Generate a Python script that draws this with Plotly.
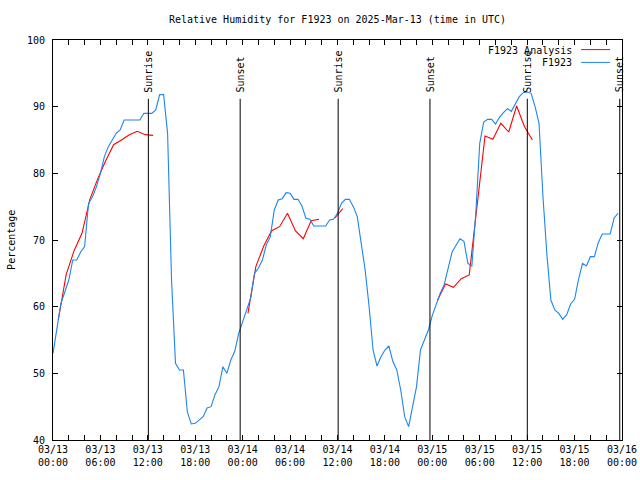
import plotly.graph_objects as go
import pandas as pd

FONT = "DejaVu Sans Mono"
station = "F1923"
title_text = "Relative Humidity for F1923 on 2025-Mar-13 (time in UTC)"

# Observed RH (F1923), every 30 minutes from 03/13 00:00 UTC
obs_start = "2025-03-13 00:00"
obs_step = "30min"
rh_obs = [
    53, 57, 60.5, 62.2, 64, 67, 67, 68.2, 69, 75.5,
    76.5, 78, 80, 82.5, 84, 85, 86, 86.5, 88, 88,
    88, 88, 88, 89, 89, 89, 89.5, 91.8, 91.8, 86,
    64, 51.5, 50.5, 50.5, 44.2, 42.4, 42.5, 43, 43.5, 44.8,
    45, 46.8, 48, 51, 50, 52, 53.3, 56,
    57.8, 59.5, 61.25, 65, 65.8, 67, 69.3, 70.5, 74.5, 76,
    76.2, 77.1, 77, 76.1, 76.1, 75.1, 73.25, 73.1, 72.1, 72.1,
    72.1, 72.1, 73, 73.1, 74, 75.5, 76.1, 76.1, 75, 73.5,
    69.5, 65.5, 60, 53.5, 51.1, 52.5, 53.5, 54.1, 51.8, 50.5,
    47.5, 43.5, 42, 45.3, 48, 53.5, 55, 56.5,
    58.7, 60.4, 62, 63.3, 65.75, 68.2, 69.2, 70.2, 69.8, 66.5,
    66.1, 74, 84.5, 87.7, 88.1, 88.1, 87.4, 88.4, 89.1, 89.7,
    89.3, 90.4, 91.5, 92.1, 92.2, 92, 90, 87.5, 76.5, 67.75,
    61, 59.5, 59, 58.1, 58.8, 60.4, 61.1, 64.1, 66.5, 66.1,
    67.5, 67.5, 69.6, 70.9, 70.9, 70.9, 73.3, 74,
]

# Analysis RH, hourly at hh:40 from 03/13 00:40 UTC (None = missing)
ana_start = "2025-03-13 00:40"
ana_step = "1h"
rh_analysis = [
    58, 64.8, 68.4, 71, 76.1, 79.2, 81.9, 84.3, 85, 85.8, 86.3, 85.8, 85.7,
    None, None, None, None, None, None, None, None, None, None, None,
    59, 66, 69.1, 71.4, 72, 74, 71.4, 70.2, 72.9, 73.1, None, 73.3, 74.7,
    None, None, None, None, None, None, None, None, None, None, None,
    61, 63.4, 62.9, 64.2, 64.75, 75.5, 85.6, 85.1, 87.5, 86.2, 90.1, 87, 85,
]

sun_times = ["2025-03-13 12:04", "2025-03-13 23:41", "2025-03-14 12:05",
             "2025-03-14 23:42", "2025-03-15 12:01", "2025-03-15 23:43"]
sun_labels = ["Sunrise", "Sunset", "Sunrise", "Sunset", "Sunrise", "Sunset"]

x_tick_labels = ["03/13<br>00:00", "03/13<br>06:00", "03/13<br>12:00", "03/13<br>18:00",
                 "03/14<br>00:00", "03/14<br>06:00", "03/14<br>12:00", "03/14<br>18:00",
                 "03/15<br>00:00", "03/15<br>06:00", "03/15<br>12:00", "03/15<br>18:00",
                 "03/16<br>00:00"]
y_ticks = [40, 50, 60, 70, 80, 90, 100]

x_start, x_end = "2025-03-13 00:00", "2025-03-16 00:00"
tick_times = pd.date_range(x_start, x_end, freq="6h")
minor_times = pd.date_range(x_start, x_end, freq="2h")

obs_times = pd.date_range(obs_start, periods=len(rh_obs), freq=obs_step)
ana_times = pd.date_range(ana_start, periods=len(rh_analysis), freq=ana_step)

RED = "#ff0000"
BLUE = "#1c86ee"

fig = go.Figure()
fig.add_trace(go.Scatter(x=ana_times, y=rh_analysis, mode="lines", name=station + " Analysis",
                         line=dict(color=RED, width=1.1), connectgaps=False))
fig.add_trace(go.Scatter(x=obs_times, y=rh_obs, mode="lines", name=station,
                         line=dict(color=BLUE, width=1.1)))

shapes = []
annotations = []
for t, lab in zip(sun_times, sun_labels):
    shapes.append(dict(type="line", xref="x", yref="paper", x0=t, x1=t, y0=0, y1=0.853,
                       line=dict(color="black", width=1)))
    annotations.append(dict(x=t, y=0.864, xref="x", yref="paper", text=lab, textangle=-90,
                            showarrow=False, xanchor="center", yanchor="bottom",
                            font=dict(family=FONT, size=10, color="black")))

# custom legend (text then line sample, as in the reference)
legend_rows = [(station + " Analysis", RED, 0.975), (station, BLUE, 0.943)]
for name, col, yy in legend_rows:
    annotations.append(dict(x=0.916, y=yy, xref="paper", yref="paper", text=name,
                            showarrow=False, xanchor="right", yanchor="middle",
                            font=dict(family=FONT, size=10, color="black")))
    shapes.append(dict(type="line", xref="paper", yref="paper", x0=0.928, x1=0.979,
                       y0=yy + 0.001, y1=yy + 0.001, line=dict(color=col, width=1)))

annotations.append(dict(x=-0.074, y=0.5, xref="paper", yref="paper", text="Percentage",
                        textangle=-90, showarrow=False, xanchor="center", yanchor="middle",
                        font=dict(family=FONT, size=10, color="black")))

fig.update_layout(
    width=640, height=480,
    margin=dict(l=53, r=18, t=40, b=40, autoexpand=False),
    paper_bgcolor="white", plot_bgcolor="white",
    showlegend=False,
    font=dict(family=FONT, size=10, color="black"),
    title=dict(text=title_text, x=0.5, xref="paper", xanchor="center",
               y=1 - 19 / 480, yref="container", yanchor="middle",
               font=dict(family=FONT, size=10, color="black")),
    shapes=shapes, annotations=annotations,
    xaxis=dict(type="date", range=[x_start, x_end], tickmode="array",
               tickvals=tick_times, ticktext=x_tick_labels,
               ticks="inside", ticklen=5, tickcolor="black", tickwidth=1,
               showline=True, linecolor="black", linewidth=1, mirror="ticks",
               showgrid=False, zeroline=False,
               minor=dict(tickmode="array", tickvals=minor_times, ticks="inside",
                          ticklen=5, tickcolor="black", tickwidth=1, showgrid=False),
               tickfont=dict(family=FONT, size=10, color="black")),
    yaxis=dict(range=[40, 100], tickmode="array", tickvals=y_ticks,
               ticks="inside", ticklen=5, tickcolor="black", tickwidth=1,
               showline=True, linecolor="black", linewidth=1, mirror="ticks",
               showgrid=False, zeroline=False, ticklabelstandoff=5,
               tickfont=dict(family=FONT, size=10, color="black")),
)

fig.write_html("out.html", config={"displayModeBar": False},
               post_script="document.body.style.margin='0';document.body.style.overflow='hidden';")
